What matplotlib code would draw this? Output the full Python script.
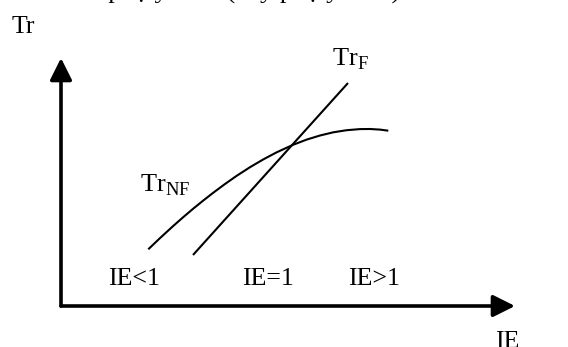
import numpy as np
import matplotlib.pyplot as plt

plt.rcParams['font.family'] = ['Liberation Serif', 'DejaVu Serif']
plt.rcParams['mathtext.fontset'] = 'custom'
plt.rcParams['mathtext.rm'] = 'Liberation Serif'

# curves (IE on x, Tr on y, arbitrary units)
nf_x = [8.73, 9.9, 11.23, 12.23, 13.23, 14.23, 15.23, 16.4, 17.57, 18.9, 20.23,
        21.57, 23.23, 24.57, 25.9, 27.23, 28.57, 29.9, 30.9, 31.9, 32.73]
nf_y = [5.67, 6.79, 8.01, 8.89, 9.74, 10.55, 11.33, 12.2, 13.02, 13.88, 14.66,
        15.37, 16.13, 16.64, 17.05, 17.37, 17.58, 17.69, 17.7, 17.64, 17.53]
f_x = [13.2, 28.7]
f_y = [5.1, 22.3]

x_max = 45.4   # arrow tips
y_max = 24.8

region_labels = ["IE<1", "IE=1", "IE>1"]
region_x = [4.7, 18.1, 28.7]

fig = plt.figure(figsize=(5.68, 3.47), dpi=100)
ax = fig.add_axes([0, 0, 1, 1])
ax.set_xlim(-6.1, 50.7)
ax.set_ylim(-4.1, 30.6)
ax.axis("off")

# axes with arrow heads
arrow = dict(arrowstyle="-|>,head_length=1.0,head_width=0.5", lw=2.6,
             color="black", shrinkA=0, shrinkB=0, mutation_scale=13.3)
ax.annotate("", xy=(x_max, 0), xytext=(0, 0), arrowprops=arrow)
ax.annotate("", xy=(0, y_max), xytext=(0, 0), arrowprops=arrow)

ax.plot(nf_x, nf_y, color="black", lw=1.5, solid_capstyle="butt",
        solid_joinstyle="round")
ax.plot(f_x, f_y, color="black", lw=1.5, solid_capstyle="butt")

ax.text(-4.9, 27.3, "Tr", fontsize=18.5, va="baseline")
ax.text(43.4, -4.2, "IE", fontsize=18.6, va="baseline")
ax.text(27.1, 24.1, r"Tr$_{\mathrm{F}}$", fontsize=19, va="baseline")
ax.text(7.9, 11.5, r"Tr$_{\mathrm{NF}}$", fontsize=19, va="baseline")
for lab, x in zip(region_labels, region_x):
    ax.text(x, 2.1, lab, fontsize=18.6, va="baseline")

# cut-off line of the surrounding document
ax.text(0.4, 30.85, "của phụ yếu tố (hay phụ yếu tố).", fontsize=19,
        va="baseline")

fig.savefig("out.png", dpi=100)
